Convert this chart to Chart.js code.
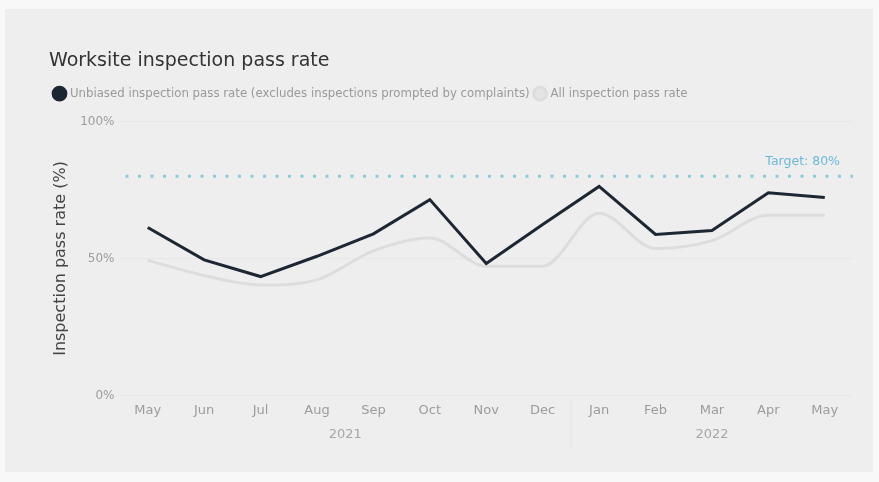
<!DOCTYPE html>
<html>
<head>
<meta charset="utf-8">
<script src="https://cdn.jsdelivr.net/npm/chart.js@4.4.0/dist/chart.umd.min.js"></script>
<style>
  html, body { margin: 0; padding: 0; background: #f8f8f8; }
  .kartu { position: absolute; left: 5px; top: 9px; width: 868px; height: 463px; background: #eeeeee; }
  #grafik { position: absolute; left: 0; top: 0; }
</style>
</head>
<body>
<div class="kartu">
  <canvas id="grafik" width="868" height="463"></canvas>
</div>
<script>
// data
const bulan = ['May', 'Jun', 'Jul', 'Aug', 'Sep', 'Oct', 'Nov', 'Dec', 'Jan', 'Feb', 'Mar', 'Apr', 'May'];
const tahun = [
  { label: '2021', dari: 0, sampai: 7 },
  { label: '2022', dari: 8, sampai: 12 }
];
const lulusTanpaBias = [61.3, 49.5, 43.4, 50.8, 59.0, 71.5, 48.2, 62.4, 76.3, 58.8, 60.2, 74.0, 72.3];
const lulusSemua = [49.3, 43.8, 40.3, 42.2, 52.8, 57.5, 47.2, 47.2, 66.5, 53.6, 56.5, 65.8, 65.8];
const target = 80;
const labelY = [0, 50, 100];

const hurufUtama = '"DejaVu Sans", sans-serif';

const pluginTambahan = {
  id: 'tambahan',
  beforeInit(chart) {
    // beri jarak tambahan di bawah legenda
    const fitAsli = chart.legend.fit;
    chart.legend.fit = function () {
      fitAsli.call(this);
      this.height += 12;
    };
  },
  beforeDatasetsDraw(chart) {
    const { ctx, chartArea, scales } = chart;
    const y = scales.y.getPixelForValue(target);
    ctx.save();
    ctx.strokeStyle = '#8ccbdc';
    ctx.lineWidth = 3;
    ctx.setLineDash([3, 9.5]);
    ctx.beginPath();
    ctx.moveTo(chartArea.left + 6, y);
    ctx.lineTo(chartArea.right, y);
    ctx.stroke();
    ctx.setLineDash([]);
    ctx.fillStyle = '#6db8d8';
    ctx.font = '12.5px ' + hurufUtama;
    ctx.textAlign = 'right';
    ctx.textBaseline = 'middle';
    ctx.fillText('Target: ' + target + '%', chartArea.right - 13, y - 15);
    ctx.restore();
  },
  afterDraw(chart) {
    const { ctx, chartArea, scales } = chart;
    ctx.save();
    ctx.fillStyle = '#a6a6a6';
    ctx.font = '13px ' + hurufUtama;
    ctx.textAlign = 'center';
    ctx.textBaseline = 'middle';
    tahun.forEach(t => {
      const x = (scales.x.getPixelForValue(t.dari) + scales.x.getPixelForValue(t.sampai)) / 2;
      ctx.fillText(t.label, x, chartArea.bottom + 39);
    });
    // garis pemisah tahun
    const xp = (scales.x.getPixelForValue(7) + scales.x.getPixelForValue(8)) / 2;
    ctx.strokeStyle = '#e4e4e4';
    ctx.lineWidth = 1;
    ctx.beginPath();
    ctx.moveTo(xp, chartArea.bottom + 4);
    ctx.lineTo(xp, chartArea.bottom + 52);
    ctx.stroke();
    ctx.restore();
  }
};

const ctx = document.getElementById('grafik').getContext('2d');
new Chart(ctx, {
  type: 'line',
  data: {
    labels: bulan,
    datasets: [{
      label: 'Unbiased inspection pass rate (excludes inspections prompted by complaints)',
      data: lulusTanpaBias,
      borderColor: '#1d2733',
      backgroundColor: '#1d2733',
      borderWidth: 3,
      pointRadius: 0,
      tension: 0,
      order: 1
    }, {
      label: 'All inspection pass rate',
      data: lulusSemua,
      borderColor: '#dddddd',
      backgroundColor: '#e4e4e4',
      borderWidth: 3,
      pointRadius: 0,
      cubicInterpolationMode: 'monotone',
      order: 2
    }]
  },
  options: {
    responsive: false,
    animation: false,
    layout: { padding: { left: 44, right: 20, top: 41, bottom: 47 } },
    scales: {
      x: {
        offset: true,
        grid: { display: false, drawTicks: false },
        border: { display: false },
        ticks: {
          color: '#9c9c9c',
          font: { size: 13, family: hurufUtama },
          padding: 7,
          maxRotation: 0
        }
      },
      y: {
        min: 0,
        max: 100,
        afterBuildTicks: axis => { axis.ticks = labelY.map(v => ({ value: v })); },
        grid: { color: '#e7e7e7', drawTicks: false },
        border: { display: false },
        ticks: {
          color: '#9c9c9c',
          font: { size: 12, family: hurufUtama },
          padding: 5,
          callback: v => v + '%'
        },
        title: {
          display: true,
          text: 'Inspection pass rate (%)',
          color: '#444444',
          font: { size: 16, family: hurufUtama },
          padding: { top: 2, bottom: 5 }
        }
      }
    },
    plugins: {
      title: {
        display: true,
        text: 'Worksite inspection pass rate',
        align: 'start',
        color: '#333333',
        font: { size: 19, weight: 'normal', family: hurufUtama },
        padding: { top: 0, bottom: 9 }
      },
      legend: {
        position: 'top',
        align: 'start',
        labels: {
          usePointStyle: true,
          pointStyle: 'circle',
          boxWidth: 9,
          boxHeight: 9,
          color: '#9a9a9a',
          font: { size: 11.75, family: hurufUtama },
          padding: 6
        }
      },
      tooltip: { enabled: false }
    }
  },
  plugins: [pluginTambahan]
});
</script>
</body>
</html>
